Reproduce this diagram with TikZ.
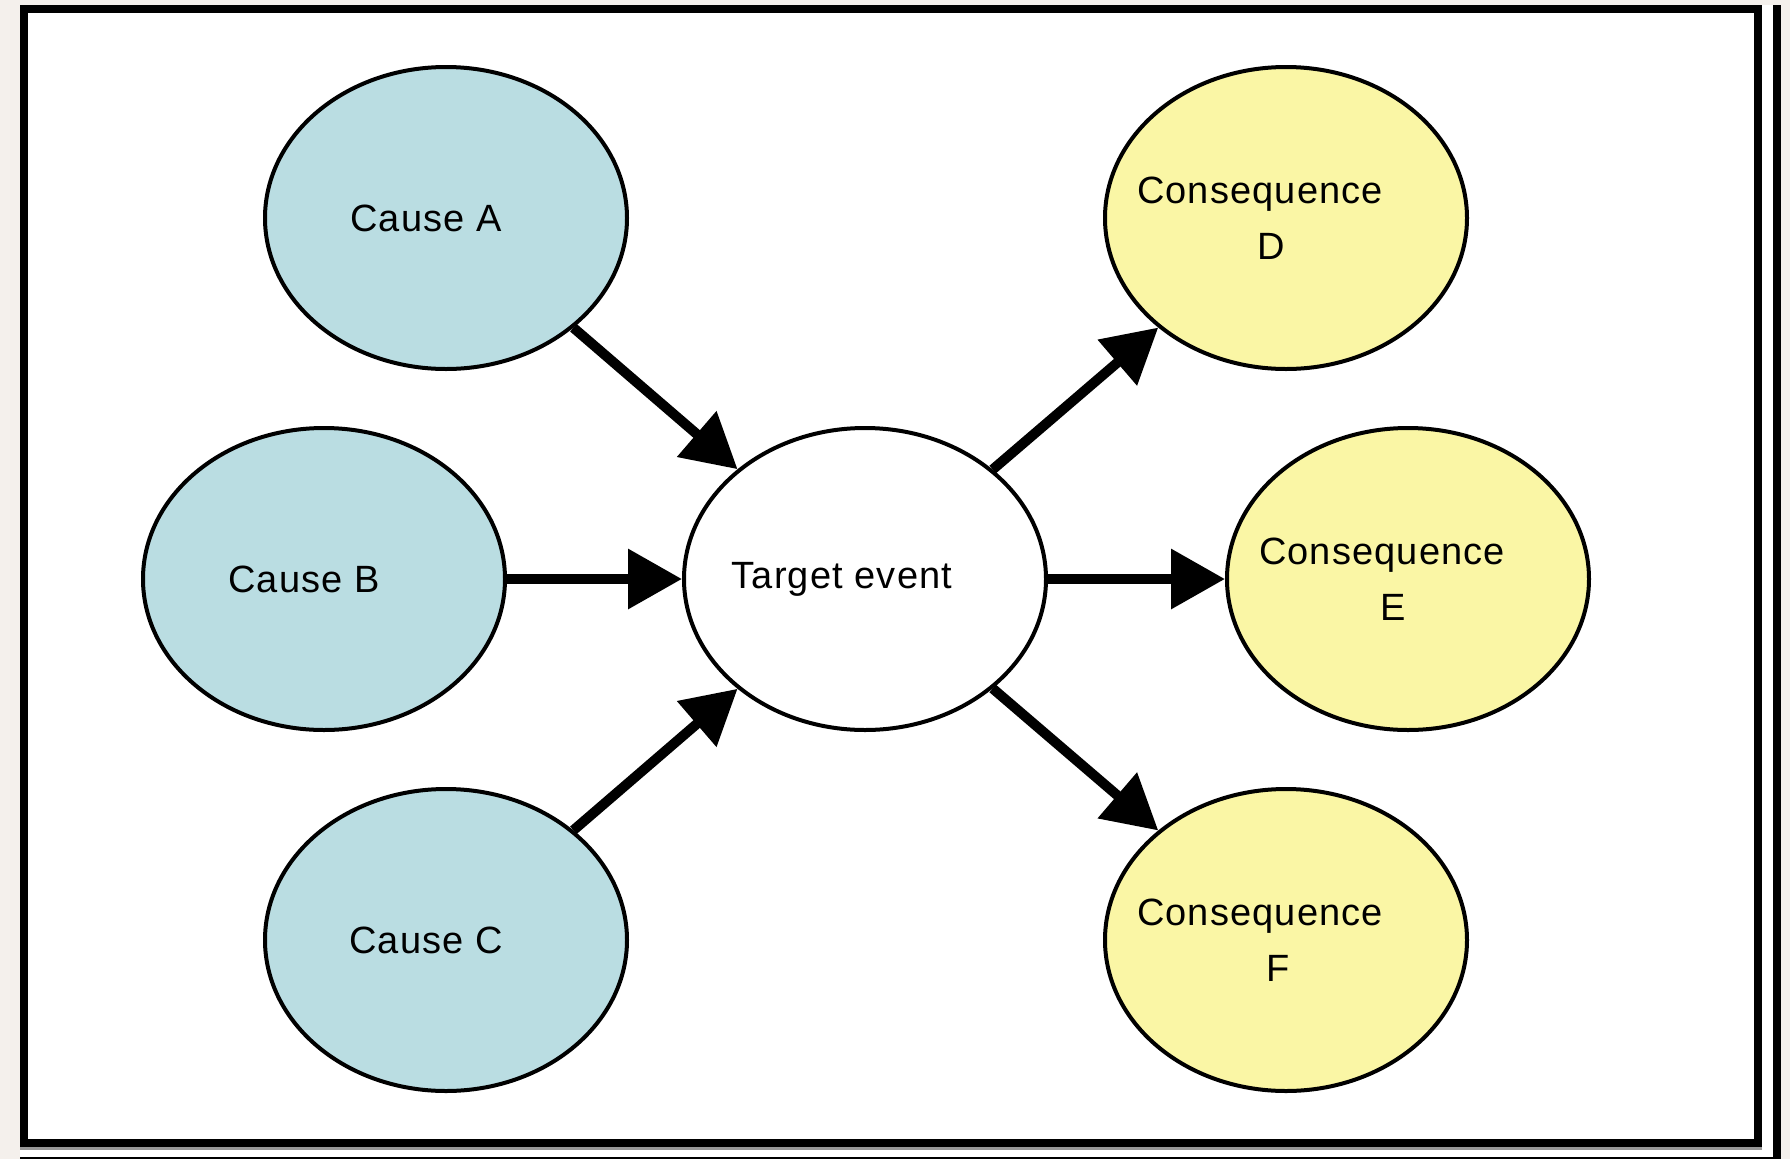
\documentclass[tikz,border=0pt]{standalone}
\usepackage{fontspec}
\setmainfont{Liberation Sans}[LetterSpace=3]
\usetikzlibrary{shapes.geometric,arrows.meta}
\definecolor{causeblue}{RGB}{186,221,226}
\definecolor{consyellow}{RGB}{250,246,165}
\definecolor{pagebeige}{RGB}{244,240,236}

\begin{document}
\begin{tikzpicture}[x=0.5pt,y=-0.5pt,
  blob/.style={ellipse,draw,line width=2pt,minimum width=181pt,minimum height=151pt,
    inner ysep=0pt,inner xsep=-50pt,font=\fontsize{19pt}{28pt}\selectfont},
  cause/.style={blob,fill=causeblue},
  conseq/.style={blob,fill=consyellow,align=center},
  arr/.style={line width=5pt,-{Triangle[length=27pt,width=29pt]}}]
  % frame
  \fill[pagebeige] (0,0) rectangle (1790,1159);
  \fill[white] (20,5) rectangle (1781,1159);
  \draw[line width=4pt] (24,8.5) rectangle (1758,1142.5);
  \draw[line width=1.5pt,gray!80] (20,1148.5) -- (1762,1148.5);
  \draw[line width=4pt] (1777,5) -- (1777,1159);
  \draw[line width=1pt] (20,1158) -- (1781,1158);
  \useasboundingbox (0,0) rectangle (1790,1159);

  \node[cause] (ca) at (446,218) {Cause A\kern20pt};
  \node[cause] (cb) at (324,579) {Cause B\kern20pt};
  \node[cause] (cc) at (446,940) {Cause C\kern20pt};
  \node[blob,fill=white] (te) at (865,579) {Target event\kern23pt};
  \node[conseq] (cd) at (1286,218) {Consequence\kern26pt\\D\kern15pt};
  \node[conseq] (ce) at (1408,579) {Consequence\kern26pt\\E\kern15pt};
  \node[conseq] (cf) at (1286,940) {Consequence\kern26pt\\F\kern8pt};

  \path[arr] (ca) edge (te)
    (cb) edge (te)
    (cc) edge (te);
  \path[arr] (te) edge (cd)
    (te) edge (ce)
    (te) edge (cf);
\end{tikzpicture}
\end{document}
